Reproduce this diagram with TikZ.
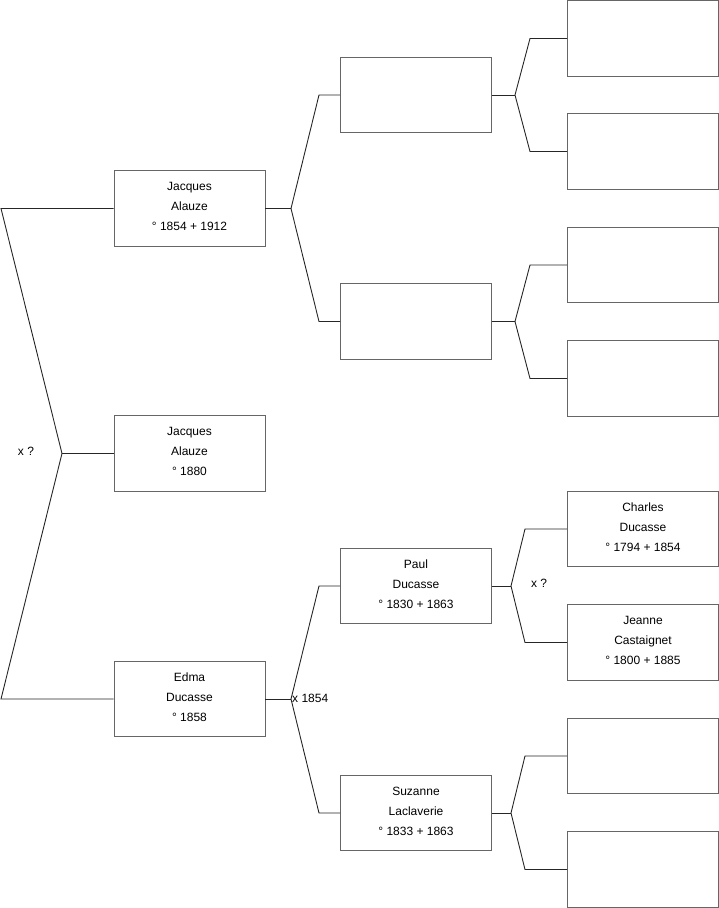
\documentclass[tikz,border=0pt]{standalone}
\usepackage{fontspec}
\setmainfont{Liberation Sans}
\begin{document}
\begin{tikzpicture}[x=1pt,y=-1pt,
  person/.style={draw=black!60,line width=0.9pt,fill=white,minimum width=151pt,minimum height=75.5pt,inner sep=0pt},
  ptext/.style={align=center,font=\fontsize{12}{20}\selectfont,inner sep=0pt,yshift=2pt},
  conn/.style={draw=black!85,line width=0.9pt},
  lbl/.style={font=\fontsize{12}{14}\selectfont,inner sep=0pt}]
\useasboundingbox (0,0) rectangle (719,908);
% column 1
\node[person,label={[ptext]center:{Jacques\\Alauze\\° 1854 + 1912}}] (ja) at (189.5,208.5) {};
\node[person,label={[ptext]center:{Jacques\\Alauze\\° 1880}}] (jb) at (189.5,453.5) {};
\node[person,label={[ptext]center:{Edma\\Ducasse\\° 1858}}] (ed) at (189.5,699) {};
% column 2
\node[person] (b1) at (416,95) {};
\node[person] (b2) at (416,321.5) {};
\node[person,label={[ptext]center:{Paul\\Ducasse\\° 1830 + 1863}}] (pa) at (416,586) {};
\node[person,label={[ptext]center:{Suzanne\\Laclaverie\\° 1833 + 1863}}] (su) at (416,813) {};
% column 3
\node[person] (c1) at (643,38.5) {};
\node[person] (c2) at (643,151.5) {};
\node[person] (c3) at (643,265) {};
\node[person] (c4) at (643,378.5) {};
\node[person,label={[ptext]center:{Charles\\Ducasse\\° 1794 + 1854}}] (ch) at (643,529) {};
\node[person,label={[ptext]center:{Jeanne\\Castaignet\\° 1800 + 1885}}] (je) at (643,642.5) {};
\node[person] (c7) at (643,756) {};
\node[person] (c8) at (643,869.5) {};
% left fork
\coordinate (L1) at (1,208.5);
\coordinate (Lm) at (62,453.5);
\coordinate (L2) at (1,699);
\draw[conn] (ja.west) -- (L1) -- (Lm) -- (L2) -- (ed.west);
\draw[conn] (Lm) -- (jb.west);
\node[lbl] (xq1) at (26,451) {x ?};
% Jacques fork
\coordinate (F1) at (291,208.5);
\coordinate (F1a) at (319,95);
\coordinate (F1b) at (319,321.5);
\draw[conn] (ja.east) -- (F1);
\draw[conn] (b1.west) -- (F1a) -- (F1) -- (F1b) -- (b2.west);
% Edma fork
\coordinate (F2) at (291,699);
\coordinate (F2a) at (319,586);
\coordinate (F2b) at (319,813);
\draw[conn] (ed.east) -- (F2);
\draw[conn] (pa.west) -- (F2a) -- (F2) -- (F2b) -- (su.west);
\node[lbl,anchor=west] (x1854) at (292,698) {x 1854};
% b1 fork
\coordinate (G1) at (515,95);
\coordinate (G1a) at (530,38.5);
\coordinate (G1b) at (530,151.5);
\draw[conn] (b1.east) -- (G1);
\draw[conn] (c1.west) -- (G1a) -- (G1) -- (G1b) -- (c2.west);
% b2 fork
\coordinate (G2) at (515,321.5);
\coordinate (G2a) at (530,265);
\coordinate (G2b) at (530,378.5);
\draw[conn] (b2.east) -- (G2);
\draw[conn] (c3.west) -- (G2a) -- (G2) -- (G2b) -- (c4.west);
% Paul fork
\coordinate (G3) at (511,586);
\coordinate (G3a) at (525,529);
\coordinate (G3b) at (525,642.5);
\draw[conn] (pa.east) -- (G3);
\draw[conn] (ch.west) -- (G3a) -- (G3) -- (G3b) -- (je.west);
\node[lbl] (xq2) at (539,583) {x ?};
% Suzanne fork
\coordinate (G4) at (511,813);
\coordinate (G4a) at (525,756);
\coordinate (G4b) at (525,869.5);
\draw[conn] (su.east) -- (G4);
\draw[conn] (c7.west) -- (G4a) -- (G4) -- (G4b) -- (c8.west);
\end{tikzpicture}
\end{document}
